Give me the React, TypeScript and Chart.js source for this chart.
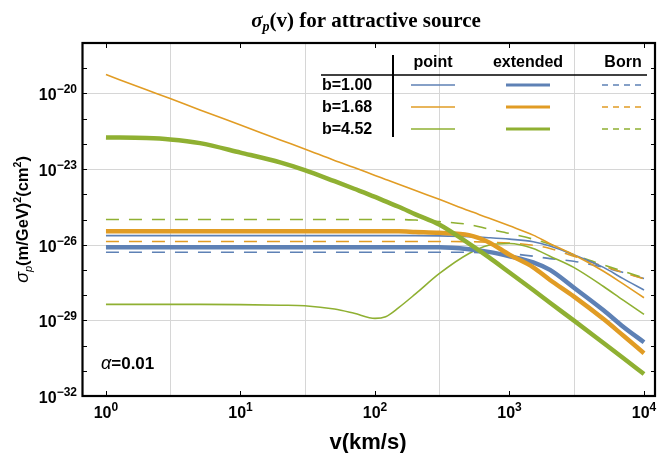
import React, { useEffect, useRef } from 'react';
import { Chart, registerables } from 'chart.js';

Chart.register(...registerables);

// velocity grid (km/s)
const velocity = [1, 2, 3, 5, 10, 20, 30, 50, 70, 100, 120, 150, 200, 300, 500, 700, 1000, 1500, 2000, 3000, 5000, 7000, 10000];

// sigma_p (m/GeV)^2 (cm^2)
const pointB100 = [2.3e-26, 2.3e-26, 2.3e-26, 2.3e-26, 2.3e-26, 2.3e-26, 2.3e-26, 2.3e-26, 2.3e-26, 2.3e-26, 2.3e-26, 2.3e-26, 2.3e-26, 2.25e-26, 2.1e-26, 1.9e-26, 1.66e-26, 1.32e-26, 8.9e-27, 4.0e-27, 1.26e-27, 4.5e-28, 1.6e-28];
const extendedB100 = [7.9e-27, 7.9e-27, 7.9e-27, 7.9e-27, 7.9e-27, 7.9e-27, 7.9e-27, 7.9e-27, 7.9e-27, 7.9e-27, 7.9e-27, 7.9e-27, 7.9e-27, 7.9e-27, 6.6e-27, 5.2e-27, 3.5e-27, 2.0e-27, 1.0e-27, 2.0e-28, 2.5e-29, 5.6e-30, 1.35e-30];
const bornB100 = [5.0e-27, 5.0e-27, 5.0e-27, 5.0e-27, 5.0e-27, 5.0e-27, 5.0e-27, 5.0e-27, 5.0e-27, 5.0e-27, 5.0e-27, 5.0e-27, 5.0e-27, 5.0e-27, 5.0e-27, 4.8e-27, 4.4e-27, 3.5e-27, 2.8e-27, 2.2e-27, 1.26e-27, 7.9e-28, 4.6e-28];

const pointB168 = [5.6e-20, 1.4e-20, 6.3e-21, 2.2e-21, 5.6e-22, 1.4e-22, 6.3e-23, 2.2e-23, 1.15e-23, 5.6e-24, 3.9e-24, 2.5e-24, 1.4e-24, 6.3e-25, 2.2e-25, 1.15e-25, 5.6e-26, 2.4e-26, 1.1e-26, 4.0e-27, 8.9e-28, 2.8e-28, 7.9e-29];
const extendedB168 = [3.4e-26, 3.4e-26, 3.4e-26, 3.4e-26, 3.4e-26, 3.4e-26, 3.4e-26, 3.4e-26, 3.4e-26, 3.4e-26, 3.4e-26, 3.4e-26, 3.2e-26, 2.95e-26, 2.4e-26, 1.26e-26, 4.0e-27, 1.26e-27, 4.0e-28, 8.9e-29, 1.12e-29, 2.5e-30, 5.0e-31];
const bornB168 = [1.35e-26, 1.35e-26, 1.35e-26, 1.35e-26, 1.35e-26, 1.35e-26, 1.35e-26, 1.35e-26, 1.35e-26, 1.35e-26, 1.35e-26, 1.35e-26, 1.35e-26, 1.35e-26, 1.32e-26, 1.26e-26, 1.17e-26, 9.5e-27, 7.1e-27, 3.5e-27, 1.4e-27, 7.9e-28, 4.4e-28];

const pointB452 = [4.3e-29, 4.3e-29, 4.3e-29, 4.3e-29, 4.2e-29, 4.0e-29, 3.8e-29, 2.8e-29, 1.9e-29, 1.2e-29, 1.4e-29, 3.2e-29, 1.12e-28, 7.1e-28, 4.5e-27, 9.5e-27, 1.12e-26, 7.1e-27, 3.5e-27, 1.26e-27, 2.2e-28, 6.3e-29, 1.74e-29];
const extendedB452 = [1.8e-22, 1.7e-22, 1.5e-22, 1.07e-22, 4.5e-23, 1.8e-23, 9.1e-24, 3.3e-24, 1.66e-24, 7.9e-25, 5.2e-25, 3.2e-25, 1.6e-25, 6.3e-26, 1.1e-26, 3.2e-27, 7.9e-28, 1.6e-28, 5.0e-29, 1.0e-29, 1.26e-30, 3.2e-31, 7.4e-32];
const bornB452 = [1.0e-25, 1.0e-25, 1.0e-25, 1.0e-25, 1.0e-25, 1.0e-25, 1.0e-25, 1.0e-25, 1.0e-25, 1.0e-25, 1.0e-25, 1.0e-25, 9.5e-26, 8.3e-26, 6.3e-26, 4.2e-26, 2.8e-26, 1.66e-26, 1.05e-26, 4.0e-27, 1.58e-27, 8.9e-28, 4.8e-28];

// axes
const xTickExponents = [0, 1, 2, 3, 4];
const xGridValues = [3, 30, 300, 3000];
const yTickExponents = [-32, -31, -30, -29, -28, -27, -26, -25, -24, -23, -22, -21, -20, -19, -18];
const yLabelExponents = [-32, -29, -26, -23, -20];
const yGridExponents = [-29, -26, -23, -20];

// legend
const legendColumns = ['point', 'extended', 'Born'];
const legendRows = ['b=1.00', 'b=1.68', 'b=4.52'];

const BLUE = '#5E81B5';
const ORANGE = '#E19C24';
const GREEN = '#8FB032';
const rowColors = [BLUE, ORANGE, GREEN];

const SANS = '"Liberation Sans", Arial, sans-serif';
const SERIF = '"Liberation Serif", "Times New Roman", serif';

type Run = { text: string; font: string; dy?: number };

function runsWidth(ctx: CanvasRenderingContext2D, runs: Run[]) {
  let w = 0;
  for (const r of runs) {
    ctx.font = r.font;
    w += ctx.measureText(r.text).width;
  }
  return w;
}

function drawRuns(ctx: CanvasRenderingContext2D, runs: Run[], x: number, y: number, align: 'left' | 'center' | 'right') {
  const w = runsWidth(ctx, runs);
  let cx = align === 'left' ? x : align === 'center' ? x - w / 2 : x - w;
  ctx.textAlign = 'left';
  ctx.textBaseline = 'alphabetic';
  for (const r of runs) {
    ctx.font = r.font;
    ctx.fillText(r.text, cx, y + (r.dy || 0));
    cx += ctx.measureText(r.text).width;
  }
}

const sup = (e: number) => String(e).replace('-', '\u2212');

const decor = {
  id: 'decor',
  beforeDatasetsDraw(chart: any) {
    const { ctx, chartArea: a, scales } = chart;
    const x = scales.x;
    const y = scales.y;
    ctx.save();
    ctx.strokeStyle = '#d6d6d6';
    ctx.lineWidth = 1;
    for (const v of xGridValues) {
      const px = Math.round(x.getPixelForValue(v)) + 0.5;
      ctx.beginPath();
      ctx.moveTo(px, a.top);
      ctx.lineTo(px, a.bottom);
      ctx.stroke();
    }
    for (const e of yGridExponents) {
      const py = Math.round(y.getPixelForValue(Math.pow(10, e))) + 0.5;
      ctx.beginPath();
      ctx.moveTo(a.left, py);
      ctx.lineTo(a.right, py);
      ctx.stroke();
    }
    ctx.restore();
  },
  afterDatasetsDraw(chart: any) {
    const { ctx, chartArea: a, scales } = chart;
    const x = scales.x;
    const y = scales.y;
    ctx.save();
    ctx.fillStyle = '#000';
    ctx.strokeStyle = '#000';

    // ticks
    ctx.lineWidth = 1;
    for (const e of xTickExponents) {
      const px = Math.round(x.getPixelForValue(Math.pow(10, e))) + 0.5;
      ctx.beginPath();
      ctx.moveTo(px, a.bottom);
      ctx.lineTo(px, a.bottom - 5);
      ctx.moveTo(px, a.top);
      ctx.lineTo(px, a.top + 5);
      ctx.stroke();
    }
    for (const e of yTickExponents) {
      const py = Math.round(y.getPixelForValue(Math.pow(10, e))) + 0.5;
      ctx.beginPath();
      ctx.moveTo(a.left, py);
      ctx.lineTo(a.left + 4, py);
      ctx.moveTo(a.right, py);
      ctx.lineTo(a.right - 4, py);
      ctx.stroke();
    }

    // frame
    ctx.lineWidth = 2.2;
    ctx.strokeRect(a.left - 0.5, a.top, a.right - a.left + 0.5, a.bottom - a.top);

    // tick labels
    const baseFont = `bold 16px ${SANS}`;
    const expFont = `bold 12px ${SANS}`;
    for (const e of xTickExponents) {
      const px = x.getPixelForValue(Math.pow(10, e));
      drawRuns(ctx, [{ text: '10', font: baseFont }, { text: sup(e), font: expFont, dy: -7 }], px, a.bottom + 22, 'center');
    }
    for (const e of yLabelExponents) {
      const py = y.getPixelForValue(Math.pow(10, e));
      drawRuns(ctx, [{ text: '10', font: baseFont }, { text: sup(e), font: expFont, dy: -7 }], a.left - 6, py + 7, 'right');
    }

    // title
    drawRuns(
      ctx,
      [
        { text: '\u03C3', font: `italic bold 21px ${SERIF}` },
        { text: 'p', font: `italic bold 14px ${SERIF}`, dy: 4 },
        { text: '(v) for attractive source', font: `bold 21px ${SERIF}` },
      ],
      366,
      27,
      'center'
    );

    // x-axis title
    drawRuns(ctx, [{ text: 'v(km/s)', font: `bold 22px ${SANS}` }], (a.left + a.right) / 2 - 1, 449, 'center');

    // y-axis title
    ctx.save();
    ctx.translate(22, (a.top + a.bottom) / 2);
    ctx.rotate(-Math.PI / 2);
    drawRuns(
      ctx,
      [
        { text: '\u03C3', font: `italic 18px ${SANS}` },
        { text: 'p', font: `italic 11px ${SANS}`, dy: 4 },
        { text: '(m/GeV)', font: `bold 16.5px ${SANS}` },
        { text: '2', font: `bold 10.5px ${SANS}`, dy: -7 },
        { text: '(cm', font: `bold 16.5px ${SANS}` },
        { text: '2', font: `bold 10.5px ${SANS}`, dy: -7 },
        { text: ')', font: `bold 16.5px ${SANS}` },
      ],
      0,
      6,
      'center'
    );
    ctx.restore();

    // alpha label
    drawRuns(
      ctx,
      [
        { text: '\u03B1', font: `italic 18px ${SANS}` },
        { text: '=0.01', font: `bold 17px ${SANS}` },
      ],
      101,
      369,
      'left'
    );

    // legend table
    const colCenters = [433, 528, 623];
    const rowY = [85, 107, 129];
    ctx.font = `bold 16px ${SANS}`;
    ctx.textBaseline = 'middle';
    ctx.textAlign = 'center';
    legendColumns.forEach((c, i) => ctx.fillText(c, colCenters[i], 63));
    ctx.textAlign = 'left';
    legendRows.forEach((r, i) => ctx.fillText(r, 322, rowY[i] + 1));
    ctx.lineWidth = 1.5;
    ctx.beginPath();
    ctx.moveTo(321, 75);
    ctx.lineTo(647, 75);
    ctx.stroke();
    ctx.lineWidth = 2;
    ctx.beginPath();
    ctx.moveTo(393, 55);
    ctx.lineTo(393, 137);
    ctx.stroke();
    const sampleHalf = 22;
    rowColors.forEach((col, i) => {
      ctx.strokeStyle = col;
      // point
      ctx.setLineDash([]);
      ctx.lineWidth = 1.5;
      ctx.beginPath();
      ctx.moveTo(colCenters[0] - sampleHalf, rowY[i]);
      ctx.lineTo(colCenters[0] + sampleHalf, rowY[i]);
      ctx.stroke();
      // extended
      ctx.lineWidth = 3;
      ctx.beginPath();
      ctx.moveTo(colCenters[1] - sampleHalf, rowY[i]);
      ctx.lineTo(colCenters[1] + sampleHalf, rowY[i]);
      ctx.stroke();
      // Born
      ctx.lineWidth = 1.5;
      ctx.setLineDash([6, 5]);
      ctx.beginPath();
      ctx.moveTo(colCenters[2] - 21, rowY[i]);
      ctx.lineTo(colCenters[2] + 21, rowY[i]);
      ctx.stroke();
      ctx.setLineDash([]);
    });

    ctx.restore();
  },
};

function series(values: number[]) {
  return velocity.map((v, i) => ({ x: v, y: values[i] }));
}

export default function App() {
  const canvasRef = useRef<HTMLCanvasElement>(null);

  useEffect(() => {
    if (!canvasRef.current) return;
    const thick = 4.5;
    const thin = 1.6;
    const dash = [13, 10];
    const chart = new Chart(canvasRef.current, {
      type: 'line',
      data: {
        datasets: [
          { label: 'extended b=4.52', data: series(extendedB452), borderColor: GREEN, borderWidth: thick },
          { label: 'extended b=1.68', data: series(extendedB168), borderColor: ORANGE, borderWidth: thick },
          { label: 'extended b=1.00', data: series(extendedB100), borderColor: BLUE, borderWidth: thick },
          { label: 'point b=4.52', data: series(pointB452), borderColor: GREEN, borderWidth: thin },
          { label: 'point b=1.68', data: series(pointB168), borderColor: ORANGE, borderWidth: thin },
          { label: 'point b=1.00', data: series(pointB100), borderColor: BLUE, borderWidth: thin },
          { label: 'Born b=4.52', data: series(bornB452), borderColor: GREEN, borderWidth: thin, borderDash: dash },
          { label: 'Born b=1.68', data: series(bornB168), borderColor: ORANGE, borderWidth: thin, borderDash: dash },
          { label: 'Born b=1.00', data: series(bornB100), borderColor: BLUE, borderWidth: thin, borderDash: dash },
        ] as any,
      },
      options: {
        responsive: false,
        animation: false,
        layout: { padding: { left: 83, right: 3, top: 43, bottom: 57 } },
        plugins: {
          legend: { display: false },
          tooltip: { enabled: false },
          title: { display: false },
        },
        elements: {
          point: { radius: 0 },
          line: { cubicInterpolationMode: 'monotone', fill: false, borderCapStyle: 'butt' },
        },
        scales: {
          x: { type: 'logarithmic', min: 0.675, max: 12070, display: false },
          y: { type: 'logarithmic', min: 1e-32, max: 1e-18, display: false },
        },
      } as any,
      plugins: [decor],
    });
    return () => chart.destroy();
  }, []);

  return (
    <div style={{ position: 'absolute', left: 0, top: 0, width: 658, height: 453, background: '#fff' }}>
      <canvas ref={canvasRef} width={658} height={453} style={{ width: 658, height: 453, display: 'block' }} />
    </div>
  );
}
